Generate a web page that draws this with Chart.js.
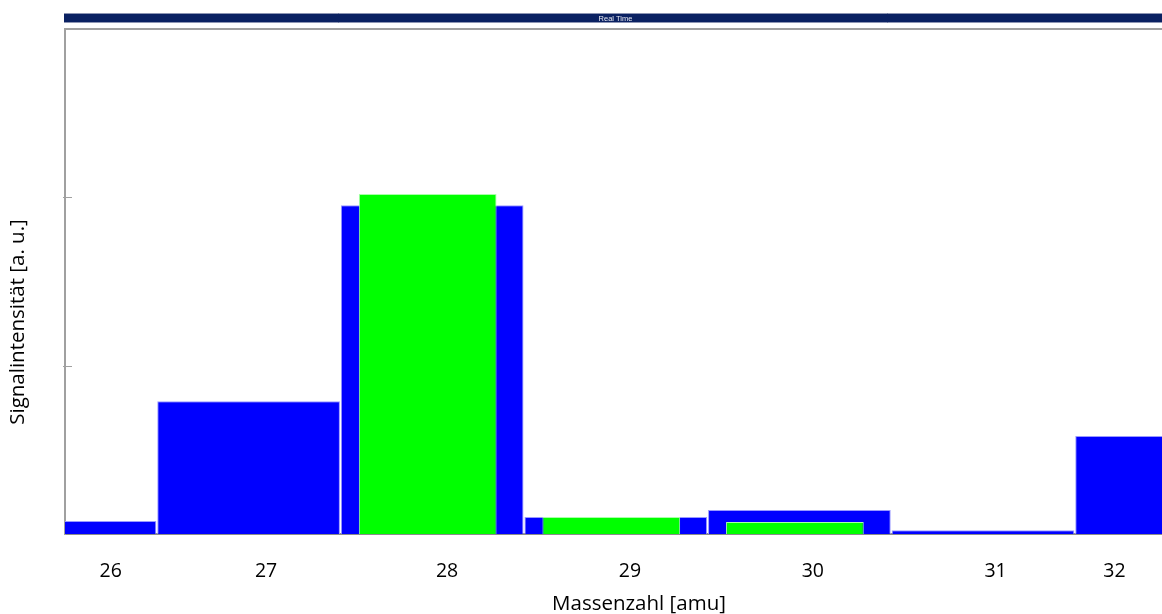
<!DOCTYPE html>
<html>
<head>
<meta charset="utf-8">
<script src="https://cdn.jsdelivr.net/npm/chart.js@4.4.1/dist/chart.umd.min.js"></script>
<style>
  html, body { margin: 0; padding: 0; background: #fff; }
  #wrap { width: 1162px; height: 614px; }
</style>
</head>
<body>
<div id="wrap"><canvas id="c" width="1162" height="614"></canvas></div>
<script>
// mass numbers (bar centres) and signal values
var masses = [26, 27, 28, 29, 30, 31, 32];
var blueVals = [0.077, 0.789, 1.953, 0.101, 0.142, 0.022, 0.582];
var greenVals = [null, null, 2.02, 0.101, 0.071, null, null];

// tick labels under the bars, and where they sit on the mass axis
var tickLabels = ["26", "27", "28", "29", "30", "31", "32"];
var tickPos = [26.25, 27.10, 28.09, 29.09, 30.09, 31.09, 31.74];
var yTicks = [1, 2];

var titleText = "Real Time";
var xTitle = "Massenzahl [amu]";
var yTitle = "Signalintensität [a. u.]";

var decor = {
  id: "decor",
  beforeDraw: function (chart) {
    var ctx = chart.ctx, a = chart.chartArea;
    ctx.save();
    // dark header bar
    ctx.fillStyle = "#0a2162";
    ctx.fillRect(a.left - 1, 13, a.right - a.left + 1, 10);
    ctx.strokeStyle = "#8d95b3";
    ctx.lineWidth = 1;
    ctx.beginPath();
    ctx.moveTo(a.left - 1, 13.5); ctx.lineTo(a.right, 13.5);
    ctx.moveTo(a.left - 1, 22.5); ctx.lineTo(a.right, 22.5);
    ctx.stroke();
    ctx.fillStyle = "#e8eaf2";
    ctx.font = "7.5px 'Liberation Sans'";
    ctx.textAlign = "center";
    ctx.textBaseline = "middle";
    ctx.fillText(titleText, (a.left + a.right) / 2 + 2, 18.5);
    // top frame line
    ctx.strokeStyle = "#a0a0a0";
    ctx.lineWidth = 2;
    ctx.beginPath();
    ctx.moveTo(a.left, a.top); ctx.lineTo(a.right, a.top);
    ctx.stroke();
    ctx.restore();
  },
  afterDraw: function (chart) {
    var ctx = chart.ctx, a = chart.chartArea, y = chart.scales.y;
    ctx.save();
    // small inside ticks on the y axis
    ctx.strokeStyle = "#a0a0a0";
    ctx.lineWidth = 1;
    yTicks.forEach(function (v) {
      var py = Math.round(y.getPixelForValue(v)) + 0.5;
      ctx.beginPath();
      ctx.moveTo(a.left - 2, py); ctx.lineTo(a.left + 7, py);
      ctx.stroke();
    });
    // axis titles
    ctx.fillStyle = "#000";
    ctx.font = "20.5px 'Open Sans'";
    ctx.textAlign = "center";
    ctx.textBaseline = "alphabetic";
    ctx.fillText(xTitle, 639, 610);
    ctx.translate(24, 322);
    ctx.rotate(-Math.PI / 2);
    ctx.fillText(yTitle, 0, 0);
    ctx.restore();
  }
};

function massTicks(s) {
  s.ticks = masses.map(function (v) { return { value: v }; });
}

new Chart(document.getElementById("c"), {
  type: "bar",
  data: {
    datasets: [
      {
        label: "green",
        data: masses.map(function (m, i) { return { x: m, y: greenVals[i] }; }),
        xAxisID: "x2",
        backgroundColor: "#00ff00",
        borderColor: "#a8ffa8",
        borderWidth: 1,
        grouped: false,
        barPercentage: 0.75,
        categoryPercentage: 1,
        order: 0
      },
      {
        label: "blue",
        data: masses.map(function (m, i) { return { x: m, y: blueVals[i] }; }),
        xAxisID: "x",
        backgroundColor: "#0000ff",
        borderColor: "#9a9aff",
        borderWidth: 1,
        grouped: false,
        barPercentage: 0.995,
        categoryPercentage: 1,
        order: 1
      }
    ]
  },
  options: {
    responsive: false,
    animation: false,
    layout: { padding: { top: 29, left: 0, right: 0, bottom: 0 } },
    plugins: { legend: { display: false }, tooltip: { enabled: false }, title: { display: false } },
    scales: {
      x: {
        type: "linear",
        display: false,
        min: 26, max: 31.975,
        offset: false,
        afterBuildTicks: massTicks
      },
      x2: {
        type: "linear",
        display: false,
        min: 26.0245, max: 31.9995,
        offset: false,
        afterBuildTicks: massTicks
      },
      xl: {
        type: "linear",
        position: "bottom",
        min: 26, max: 32,
        offset: false,
        grid: { display: false, drawTicks: false, offset: false },
        border: { display: true, color: "#8c8c8c", width: 2 },
        afterBuildTicks: function (s) {
          s.ticks = tickPos.map(function (v) { return { value: v }; });
        },
        afterFit: function (s) { s.height = 80; },
        ticks: {
          autoSkip: false,
          maxRotation: 0,
          padding: 26,
          color: "#000",
          font: { family: "'Open Sans'", size: 19.5 },
          callback: function (v, i) { return tickLabels[i]; }
        }
      },
      y: {
        min: 0, max: 3,
        grid: { display: false, drawTicks: false },
        border: { display: true, color: "#a0a0a0", width: 2 },
        afterFit: function (s) { s.width = 65; },
        ticks: { display: false, stepSize: 1 }
      }
    }
  },
  plugins: [decor]
});
</script>
</body>
</html>
